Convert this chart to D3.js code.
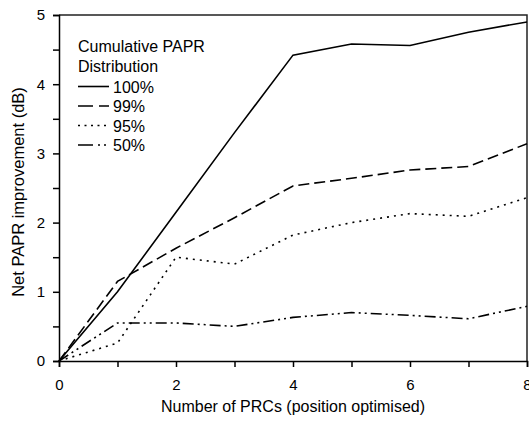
<!DOCTYPE html>
<html>
<head>
<meta charset="UTF-8">
<script src="https://d3js.org/d3.v7.min.js"></script>
<style>
    body { margin: 0; background: #fff; }
    text { font-family: "Liberation Sans", Arial, sans-serif; fill: #000; }
    .axis path, .axis line { stroke: #000; stroke-width: 1.5px; }
    .axis text { font-size: 15px; }
    .series { fill: none; stroke: #000; stroke-width: 1.6px; }
</style>
</head>
<body>
<svg id="chart" width="529" height="424"></svg>
<script>
    // x values: number of PRCs
    const prcs = [0, 1, 2, 3, 4, 5, 6, 7, 8];
    const labels = ["100%", "99%", "95%", "50%"];
    const p100 = [0, 1.0, 2.15, 3.3, 4.42, 4.58, 4.56, 4.75, 4.9];
    const p99 = [0, 1.15, 1.63, 2.07, 2.53, 2.64, 2.76, 2.81, 3.14];
    const p95 = [0, 0.26, 1.5, 1.4, 1.82, 2.0, 2.13, 2.09, 2.36];
    const p50 = [0, 0.55, 0.55, 0.5, 0.63, 0.7, 0.66, 0.61, 0.79];
    const xTicks = [0, 1, 2, 3, 4, 5, 6, 7, 8];
    const yTicks = [0, 0.5, 1, 1.5, 2, 2.5, 3, 3.5, 4, 4.5, 5];

    const allSeries = [p100, p99, p95, p50];
    const dashes = [null, "11,5", "2,5", "11,4,2,4,2,4"];
    const legendDashes = [null, "15,6", "2,4.5", "15,5,2,4,2,4"];

    const svg = d3.select("svg#chart");
    const margin = {top: 15, right: 2, bottom: 63, left: 59};
    const width = +svg.attr("width") - margin.left - margin.right;
    const height = +svg.attr("height") - margin.top - margin.bottom;

    const x = d3.scaleLinear().domain([0, 8]).range([margin.left, margin.left + width]);
    const y = d3.scaleLinear().domain([0, 5]).range([margin.top + height, margin.top]);

    // frame on top and right
    svg.append("path")
        .attr("d", `M${x(0)},${y(5)}H${x(8)}V${y(0)}`)
        .attr("fill", "none")
        .attr("stroke", "#222")
        .attr("stroke-width", 1.5);

    svg.append("g")
        .attr("class", "axis")
        .attr("transform", `translate(0,${y(0)})`)
        .call(d3.axisBottom(x).tickValues(xTicks).tickSize(6).tickPadding(12)
            .tickFormat(d => d % 2 === 0 ? d : ""));

    svg.append("g")
        .attr("class", "axis")
        .attr("transform", `translate(${x(0)},0)`)
        .call(d3.axisLeft(y).tickValues(yTicks).tickSize(6).tickPadding(8)
            .tickFormat(d => Number.isInteger(d) ? d : ""));

    const line = d3.line()
        .x((d, i) => x(prcs[i]))
        .y(d => y(d));

    svg.selectAll("path.series")
        .data(allSeries)
        .enter()
        .append("path")
        .attr("class", "series")
        .attr("d", line)
        .attr("stroke-dasharray", (d, i) => dashes[i]);

    // legend
    const legend = svg.append("g").attr("transform", "translate(78,0)");
    legend.append("text").attr("x", 0).attr("y", 52).style("font-size", "16px").text("Cumulative PAPR");
    legend.append("text").attr("x", 0).attr("y", 72).style("font-size", "16px").text("Distribution");
    labels.forEach((lab, i) => {
        const yy = 86.5 + i * 19.5;
        legend.append("line")
            .attr("x1", 0).attr("x2", 31)
            .attr("y1", yy).attr("y2", yy)
            .attr("class", "series")
            .attr("stroke-dasharray", legendDashes[i]);
        legend.append("text")
            .attr("x", 35).attr("y", yy + 6)
            .style("font-size", "16px")
            .text(lab);
    });

    svg.append("text")
        .attr("x", (x(0) + x(8)) / 2)
        .attr("y", 412)
        .attr("text-anchor", "middle")
        .style("font-size", "16px")
        .text("Number of PRCs (position optimised)");

    svg.append("text")
        .attr("transform", "translate(24,192) rotate(-90)")
        .attr("text-anchor", "middle")
        .style("font-size", "16.5px")
        .text("Net PAPR improvement (dB)");
</script>
</body>
</html>
